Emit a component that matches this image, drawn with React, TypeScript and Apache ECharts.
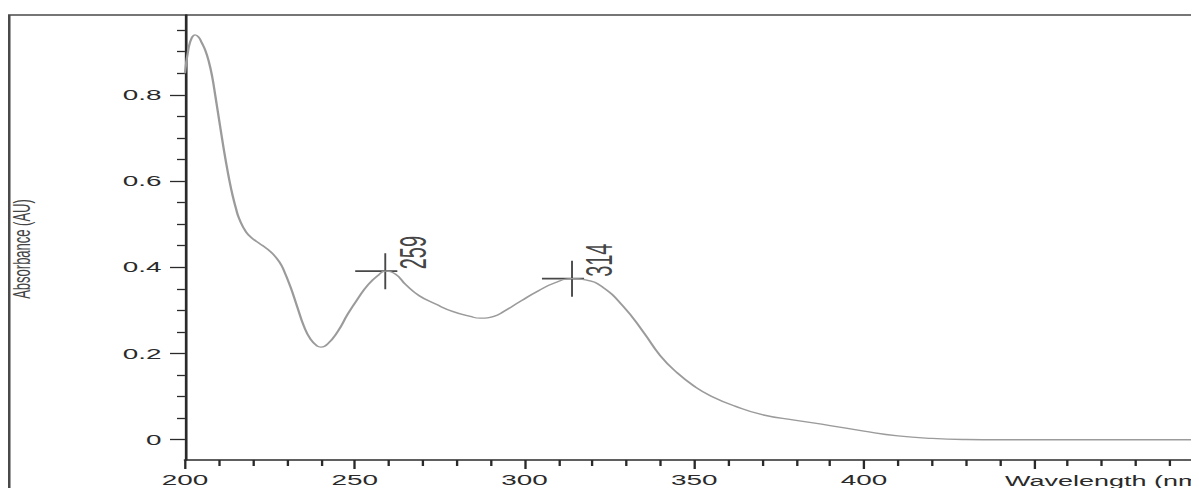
import React, { useEffect, useRef } from "react";
import * as echarts from "echarts";

// UV absorbance spectrum (wavelength in nm, absorbance in AU)
const wavelengths = [
  200, 201, 202, 203, 204, 205, 206, 207, 208, 209, 210, 211, 212, 213, 214, 215, 216, 218, 220, 222,
  224, 226, 228, 229, 231, 233, 235, 237, 239, 240, 242, 245, 248, 251, 254, 257, 259, 262, 265, 269,
  274, 279, 284, 287, 291, 294, 299, 304, 309, 314, 318, 323, 329, 335, 340, 345, 350, 355, 362, 370,
  380, 390, 400, 410, 420, 430, 440, 460, 480, 500,
];
const absorbance = [
  0.85, 0.905, 0.932, 0.939, 0.934, 0.92, 0.903, 0.878, 0.843, 0.795, 0.745, 0.695, 0.648, 0.605, 0.568, 0.537, 0.512, 0.482, 0.466, 0.455,
  0.444, 0.43, 0.41, 0.395, 0.356, 0.31, 0.264, 0.233, 0.217, 0.215, 0.222, 0.251, 0.292, 0.328, 0.36, 0.382, 0.391, 0.384, 0.36, 0.334,
  0.314, 0.297, 0.286, 0.282, 0.286, 0.298, 0.322, 0.345, 0.364, 0.3735, 0.371, 0.354, 0.31, 0.25, 0.195, 0.155, 0.124, 0.101, 0.078, 0.058,
  0.045, 0.033, 0.02, 0.009, 0.003, 0.0005, 0, 0, 0, 0,
];

// Detected peaks
const peakWavelengths = [259, 314];
const peakAbsorbance = [0.391, 0.3735];

// Axis ticks and labels
const xLabelValues = [200, 250, 300, 350, 400];
const yMajorTicks = [0, 0.2, 0.4, 0.6, 0.8];
const yMinorTicks = [0.05, 0.1, 0.15, 0.25, 0.3, 0.35, 0.45, 0.5, 0.55, 0.65, 0.7, 0.75, 0.85, 0.9, 0.95];
const xAxisTitle = "Wavelength (nm)";
const yAxisTitle = "Absorbance (AU)";

// The plot is laid out on a narrow canvas and widened horizontally.
const STRETCH = 1.8;
const CANVAS_W = 700;
const CANVAS_H = 480;
const FONT = "'Liberation Sans', Arial, sans-serif";

export default function App() {
  const ref = useRef<HTMLDivElement | null>(null);

  useEffect(() => {
    if (!ref.current) return;
    const chart = echarts.init(ref.current, undefined, { renderer: "svg" });
    const axisColor = "#2a2a2a";

    chart.setOption({
      animation: false,
      textStyle: { fontFamily: FONT },
      grid: { left: 98.3, top: 7, right: CANVAS_W - 664.2, bottom: 27, containLabel: false },
      xAxis: {
        type: "value",
        min: 200,
        max: 500,
        interval: 50,
        axisLine: { show: true, onZero: false, lineStyle: { color: axisColor, width: 1.5 } },
        axisTick: { show: true, length: 9, lineStyle: { color: axisColor, width: 1.3 } },
        minorTick: { show: true, splitNumber: 5, length: 6, lineStyle: { color: axisColor, width: 1.3 } },
        axisLabel: {
          customValues: xLabelValues,
          margin: 12,
          fontSize: 15.5,
          color: axisColor,
          fontFamily: FONT,
        },
        splitLine: { show: false },
        minorSplitLine: { show: false },
      },
      yAxis: [
        {
          type: "value",
          min: -0.047,
          max: 0.985,
          position: "left",
          axisLine: { show: true, onZero: false, lineStyle: { color: axisColor, width: 1.5 } },
          axisTick: { show: true, customValues: yMajorTicks, length: 8.3, lineStyle: { color: axisColor, width: 1.3 } },
          axisLabel: {
            customValues: yMajorTicks,
            formatter: (v: number) => (v === 0 ? "0" : v.toFixed(1)),
            margin: 13,
            fontSize: 15.5,
            color: axisColor,
            fontFamily: FONT,
          },
          splitLine: { show: false },
        },
        {
          type: "value",
          min: -0.047,
          max: 0.985,
          position: "left",
          axisLine: { show: false },
          axisTick: { show: true, customValues: yMinorTicks, length: 4.4, lineStyle: { color: axisColor, width: 1.3 } },
          axisLabel: { show: false },
          splitLine: { show: false },
        },
      ],
      series: [
        {
          type: "line",
          data: wavelengths.map((w, i) => [w, absorbance[i]]),
          symbol: "none",
          showSymbol: false,
          smooth: 0.5,
          silent: true,
          lineStyle: { color: "#9b9b9b", width: 1.3 },
        },
        {
          type: "scatter",
          data: peakWavelengths.map((w, i) => ({ value: [w, peakAbsorbance[i]], name: String(w) })),
          symbol: "path://M16.7,0L16.7,36M0,18L23.4,18",
          symbolSize: [23.4, 36],
          symbolOffset: [-5, 0],
          silent: true,
          itemStyle: { color: "transparent", borderColor: "#1a1a1a", borderWidth: 1.3 },
          label: {
            show: true,
            formatter: (p: any) => String(p.value[0]),
            rotate: 90,
            position: [22.8, 17],
            align: "left",
            verticalAlign: "top",
            fontSize: 20,
            color: "#111",
            fontFamily: FONT,
          },
        },
      ],
      graphic: [
        {
          type: "rect",
          silent: true,
          z: -1,
          shape: { x: 0.7, y: 7, width: 2000, height: 2000 },
          style: { fill: "none", stroke: "#4a4a4a", lineWidth: 1.4 },
        },
        {
          type: "text",
          x: 7.8,
          y: 241,
          rotation: Math.PI / 2,
          style: {
            text: yAxisTitle,
            fontSize: 13,
            fontFamily: FONT,
            fill: "#444",
            align: "center",
            verticalAlign: "middle",
          },
        },
        {
          type: "text",
          x: 553.9,
          y: 465,
          style: {
            text: xAxisTitle,
            fontSize: 15,
            fontFamily: FONT,
            fill: axisColor,
            align: "left",
            verticalAlign: "top",
          },
        },
      ],
    });

    return () => chart.dispose();
  }, []);

  return (
    <div style={{ width: 1191, height: CANVAS_H, overflow: "hidden", position: "relative" }}>
      <div
        ref={ref}
        style={{
          width: CANVAS_W,
          height: CANVAS_H,
          transform: `scaleX(${STRETCH})`,
          transformOrigin: "0 0",
        }}
      />
    </div>
  );
}
